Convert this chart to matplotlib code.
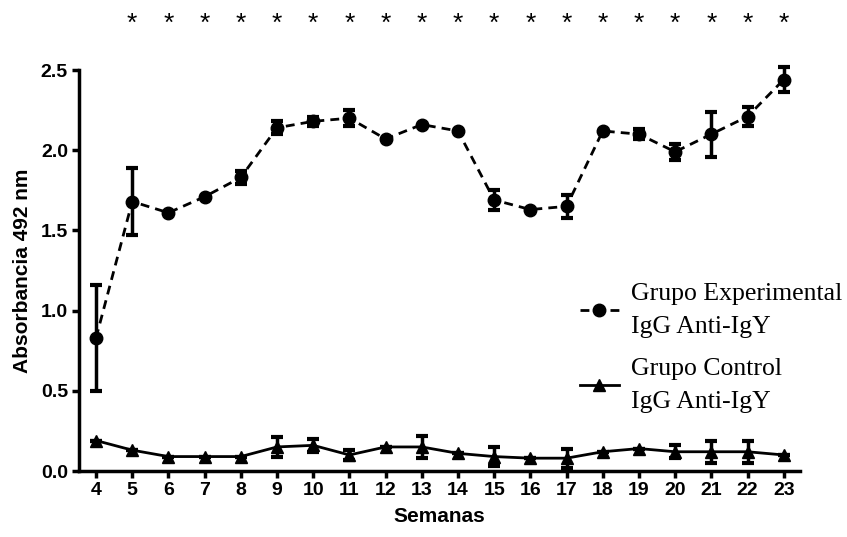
import matplotlib
matplotlib.use('Agg')
import matplotlib.pyplot as plt
import matplotlib.transforms as mtransforms
from matplotlib.lines import Line2D

semanas = list(range(4, 24))

exp_media = [0.83, 1.68, 1.61, 1.71, 1.83, 2.14, 2.18, 2.20, 2.07, 2.16,
             2.12, 1.69, 1.63, 1.65, 2.12, 2.10, 1.99, 2.10, 2.21, 2.44]
exp_err = [0.33, 0.21, 0.0, 0.0, 0.04, 0.04, 0.03, 0.05, 0.0, 0.0,
           0.0, 0.06, 0.0, 0.07, 0.0, 0.03, 0.05, 0.14, 0.06, 0.08]

ctrl_media = [0.19, 0.13, 0.09, 0.09, 0.09, 0.15, 0.16, 0.10, 0.15, 0.15,
              0.11, 0.09, 0.08, 0.08, 0.12, 0.14, 0.12, 0.12, 0.12, 0.10]
ctrl_err = [0.0, 0.0, 0.0, 0.0, 0.0, 0.06, 0.04, 0.03, 0.0, 0.07,
            0.0, 0.06, 0.0, 0.06, 0.0, 0.0, 0.04, 0.07, 0.07, 0.0]

semanas_sig = list(range(5, 24))

etiquetas = ['Grupo Experimental\nIgG Anti-IgY', 'Grupo Control\nIgG Anti-IgY']

plt.rcParams['font.family'] = ['Liberation Sans', 'DejaVu Sans']

fig = plt.figure(figsize=(8.47, 5.37), dpi=100)
ax = fig.add_axes([0.0933, 0.1229, 0.8512, 0.7467])

dash = (0, (3.2, 2.2))
ax.errorbar(semanas, exp_media, yerr=exp_err, fmt='o', color='black',
            ls=dash, lw=2, ms=9, elinewidth=2.5, capsize=4.5,
            capthick=3, clip_on=False)
ax.errorbar(semanas, ctrl_media, yerr=ctrl_err, fmt='^', color='black',
            ls='-', lw=2, ms=9, elinewidth=2.5, capsize=4.5, capthick=3,
            clip_on=False)

ax.set_xlim(3.53, 23.45)
ax.set_ylim(0, 2.5)
ax.set_xticks(semanas)
ax.set_yticks([0.0, 0.5, 1.0, 1.5, 2.0, 2.5])
ax.set_yticklabels(['0.0', '0.5', '1.0', '1.5', '2.0', '2.5'])

for lab in ax.get_xticklabels() + ax.get_yticklabels():
    lab.set_fontweight('bold')
    lab.set_fontsize(14)

ax.spines['top'].set_visible(False)
ax.spines['right'].set_visible(False)
ax.spines['left'].set_linewidth(2.5)
ax.spines['bottom'].set_linewidth(2.5)
ax.tick_params(axis='both', direction='out', length=5, width=2.5, pad=3)

ax.set_xlabel('Semanas', fontsize=15, fontweight='bold', labelpad=6)
ax.set_ylabel('Absorbancia 492 nm', fontsize=15, fontweight='bold', labelpad=6)

trans = mtransforms.blended_transform_factory(ax.transData, ax.transAxes)
for s in semanas_sig:
    ax.text(s, 1.115, '*', transform=trans, ha='center', va='center', fontsize=19)

handles = [Line2D([], [], color='black', ls=dash, lw=2, marker='o', ms=9),
           Line2D([], [], color='black', ls='-', lw=2, marker='^', ms=9)]
leg = ax.legend(handles, etiquetas, loc='center left', bbox_to_anchor=(0.677, 0.307),
                frameon=False, borderpad=0,
                prop={'family': 'Liberation Serif', 'size': 18.5},
                handlelength=1.5, handletextpad=0.5, labelspacing=0.8)
for t in leg.get_texts():
    t.set_linespacing(1.65)

fig.savefig('out.png', dpi=100)
